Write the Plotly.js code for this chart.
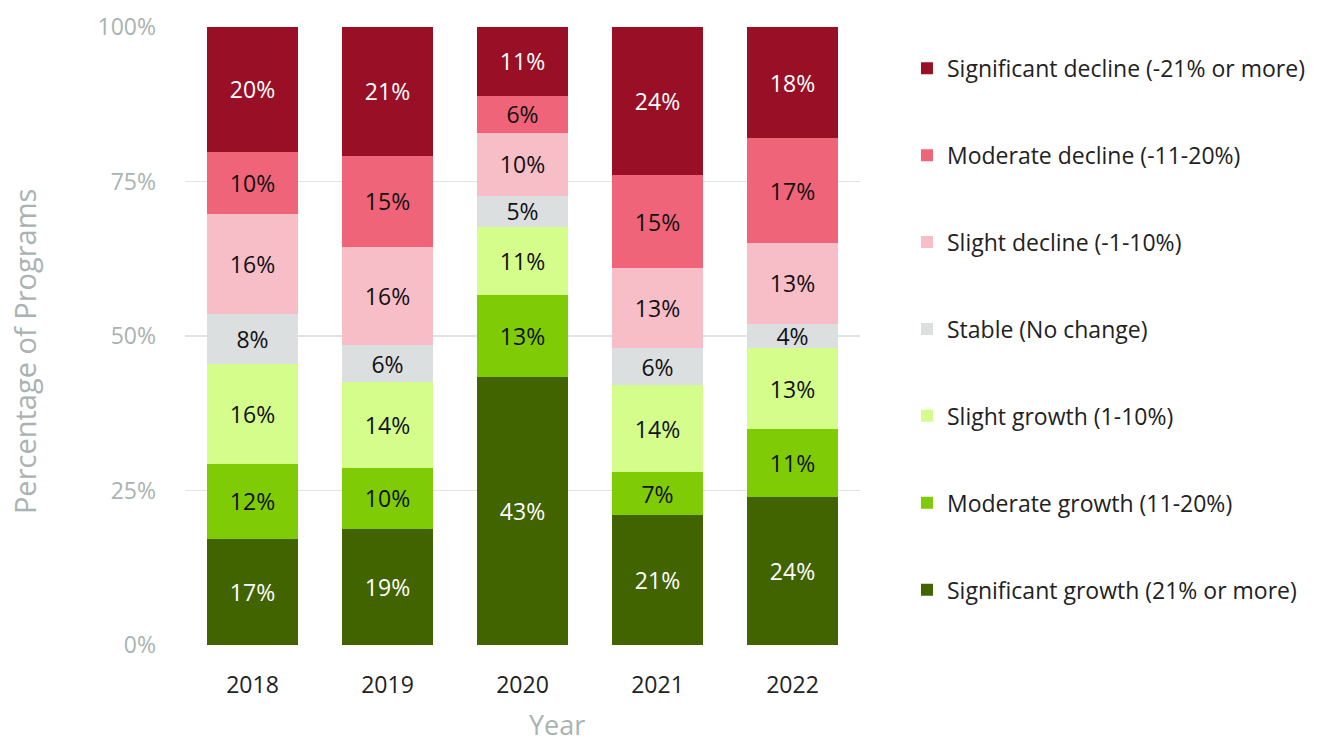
<!DOCTYPE html>
<html>
<head>
<meta charset="utf-8">
<script src="https://cdn.plot.ly/plotly-3.0.1.min.js"></script>
<style>html,body{margin:0;padding:0;background:#fff;}#chart{width:1323px;height:745px;}</style>
</head>
<body>
<div id="chart"></div>
<script>
const years = ['2018', '2019', '2020', '2021', '2022'];
const seriesNames = [
  'Significant growth (21% or more)',
  'Moderate growth (11-20%)',
  'Slight growth (1-10%)',
  'Stable (No change)',
  'Slight decline (-1-10%)',
  'Moderate decline (-11-20%)',
  'Significant decline (-21% or more)'
];
const significantGrowth = [17, 19, 43, 21, 24];
const moderateGrowth    = [12, 10, 13, 7, 11];
const slightGrowth      = [16, 14, 11, 14, 13];
const stable            = [8, 6, 5, 6, 4];
const slightDecline     = [16, 16, 10, 13, 13];
const moderateDecline   = [10, 15, 6, 15, 17];
const significantDecline= [20, 21, 11, 24, 18];
const yTickVals = [0, 25, 50, 75, 100];
const yTickText = yTickVals.map(v => v + '%');
const xTitle = 'Year';
const yTitle = 'Percentage of Programs';

const seriesValues = [significantGrowth, moderateGrowth, slightGrowth, stable, slightDecline, moderateDecline, significantDecline];
const colors = ['#416300', '#7fcc06', '#d4fd8c', '#dcdfdf', '#f8bec8', '#ef6479', '#980f26'];
const textColors = ['#ffffff', '#111111', '#111111', '#111111', '#111111', '#111111', '#ffffff'];
const FONT = 'Open Sans, Lato, sans-serif';
const GRAY = '#a9b3b1';

const traces = seriesNames.map((name, i) => ({
  type: 'bar',
  name: name,
  x: years,
  y: seriesValues[i],
  text: seriesValues[i].map(v => v + '%'),
  texttemplate: '%{text}',
  textposition: 'inside',
  insidetextanchor: 'middle',
  textangle: 0,
  constraintext: 'none',
  insidetextfont: {family: FONT, size: 23, color: textColors[i]},
  marker: {color: colors[i], line: {width: 0}},
  legendgroup: 'g' + i,
  legendrank: seriesNames.length - i,
  hoverinfo: 'name+y'
}));

const layout = {
  width: 1323,
  height: 745,
  margin: {l: 185, r: 463, t: 27, b: 100},
  barmode: 'stack',
  barnorm: 'percent',
  bargap: 0.333,
  paper_bgcolor: '#ffffff',
  plot_bgcolor: '#ffffff',
  font: {family: FONT, size: 23, color: '#222'},
  showlegend: true,
  legend: {
    x: 1.0696, xanchor: 'left',
    y: 0.968, yanchor: 'top',
    traceorder: 'grouped',
    tracegroupgap: 54,
    font: {family: FONT, size: 23, color: '#222'},
    itemwidth: 30,
    bgcolor: 'rgba(0,0,0,0)'
  },
  xaxis: {
    type: 'category',
    showgrid: false,
    zeroline: false,
    showline: false,
    ticks: '',
    ticklabelstandoff: 24,
    tickfont: {family: FONT, size: 23, color: '#222'}
  },
  yaxis: {
    range: [0, 100],
    tickmode: 'array',
    tickvals: yTickVals,
    ticktext: yTickText,
    showgrid: true,
    gridcolor: '#e2e4e4',
    gridwidth: 1.5,
    zeroline: false,
    showline: false,
    ticks: '',
    ticklabelstandoff: 28,
    tickfont: {family: FONT, size: 23, color: GRAY}
  },
  annotations: [
    {
      text: xTitle, xref: 'paper', yref: 'paper',
      x: 0.551, y: -0.128, xanchor: 'center', yanchor: 'middle',
      showarrow: false, font: {family: FONT, size: 27, color: GRAY}
    },
    {
      text: yTitle, xref: 'paper', yref: 'paper', textangle: -90,
      x: -0.2385, y: 0.474, xanchor: 'center', yanchor: 'middle',
      showarrow: false, font: {family: FONT, size: 29, color: GRAY}
    }
  ]
};

Plotly.newPlot('chart', traces, layout, {displayModeBar: false, staticPlot: true});
</script>
</body>
</html>
